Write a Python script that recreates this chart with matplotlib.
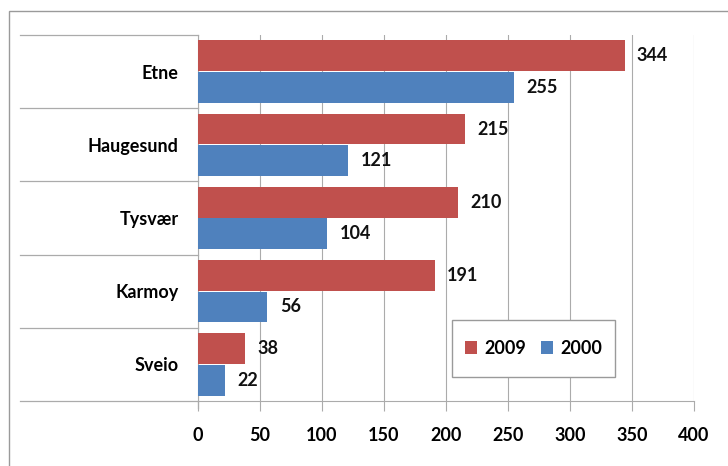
import matplotlib
matplotlib.use("Agg")
import matplotlib.pyplot as plt
from matplotlib.patches import Rectangle
import numpy as np

categories = ["Etne", "Haugesund", "Tysvær", "Karmoy", "Sveio"]
values_2009 = [344, 215, 210, 191, 38]
values_2000 = [255, 121, 104, 56, 22]
xticks = [0, 50, 100, 150, 200, 250, 300, 350, 400]

RED = "#C0504D"
BLUE = "#4F81BD"
GRID = "#ABABAB"

plt.rcParams['font.family'] = ['Lato', 'DejaVu Sans']
FS = 13

fig = plt.figure(figsize=(7.28, 4.66), dpi=100)
ax = fig.add_axes([198/728, 1 - 401/466, (694-198)/728, (401-35)/466])

y = np.arange(len(categories))
h = 0.42
ax.barh(y - 0.215, values_2009, height=h, color=RED, label="2009", zorder=3)
ax.barh(y + 0.215, values_2000, height=h, color=BLUE, label="2000", zorder=3)

for yi, v in zip(y, values_2009):
    ax.text(v + 10, yi - 0.215, str(v), va="center", ha="left", fontsize=FS, fontweight="bold", color="#111111")
for yi, v in zip(y, values_2000):
    ax.text(v + 10, yi + 0.215, str(v), va="center", ha="left", fontsize=FS, fontweight="bold", color="#111111")

ax.set_xlim(0, 400)
ax.set_ylim(len(categories) - 0.5, -0.5)
ax.set_xticks(xticks)
ax.set_xticklabels([str(t) for t in xticks], fontsize=FS, fontweight="bold")
ax.set_yticks(y)
ax.set_yticklabels(categories, fontsize=FS, fontweight="bold")
ax.tick_params(axis="y", length=0, pad=14)
ax.tick_params(axis="x", length=7, color=GRID, pad=12)

for s in ["top", "right"]:
    ax.spines[s].set_visible(False)
ax.spines["left"].set_color(GRID)
ax.spines["bottom"].set_color(GRID)

ax.xaxis.grid(True, color=GRID, linewidth=0.8, zorder=0)
ax.set_axisbelow(True)

# category separator lines extending to the left
for b in np.arange(-0.5, len(categories) + 0.5, 1.0):
    ax.plot([-0.359, 0], [b, b], color=GRID, linewidth=0.9,
            transform=ax.get_yaxis_transform(), clip_on=False)
ax.plot([0, 0], [len(categories) - 0.5, len(categories) - 0.5 + 0.1], color=GRID,
        linewidth=0.9, clip_on=False)

# outer chart border
fig.patches.append(Rectangle((9/728, -0.01), 1.0, 1 - 11/466 + 0.01, transform=fig.transFigure,
                             fill=False, edgecolor="#9A9A9A", linewidth=1.0))

# legend box
lx0, lx1, ly0, ly1 = 452, 615, 320, 377
fig.patches.append(Rectangle((lx0/728, 1 - ly1/466), (lx1-lx0)/728, (ly1-ly0)/466,
                             transform=fig.transFigure, facecolor="white",
                             edgecolor="#9A9A9A", linewidth=1.0, zorder=5))
leg = fig.legend(loc="center", bbox_to_anchor=((lx0+lx1)/2/728, 1 - (ly0+ly1)/2/466),
                 ncol=2, frameon=False, handlelength=0.7, handleheight=0.7,
                 handletextpad=0.4, columnspacing=0.8,
                 prop={"weight": "bold", "size": FS})
leg.set_zorder(6)

fig.savefig("out.png", dpi=100)
